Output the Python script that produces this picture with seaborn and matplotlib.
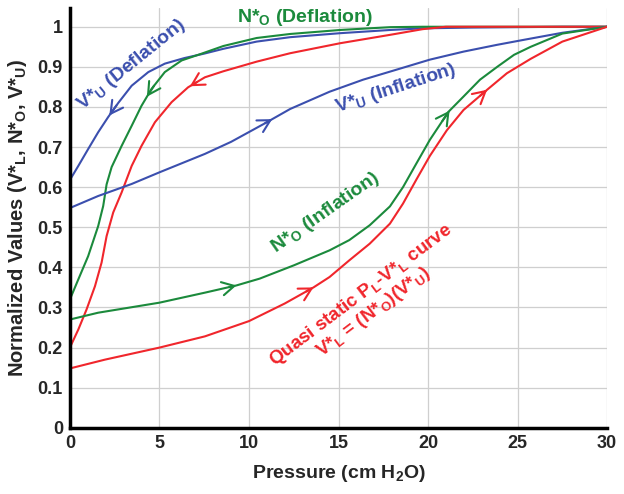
import numpy as np
import matplotlib
matplotlib.use("Agg")
import matplotlib.pyplot as plt
import seaborn as sns

# curves (pressure in cm H2O, normalized values)
vu_def_x = [0, 0.47, 1.02, 1.58, 2.14, 2.7, 3.45, 4.38, 5.3, 6.4, 7.5, 8.57, 10.43, 12.3, 15.1, 17.9, 19.7, 22.5, 25, 27.5, 30]
vu_def_y = [0.618, 0.653, 0.695, 0.737, 0.775, 0.81, 0.853, 0.887, 0.908, 0.922, 0.933, 0.945, 0.963, 0.974, 0.984, 0.992, 0.996, 0.998, 0.999, 1.0, 1.0]

no_def_x = [0, 0.47, 1.02, 1.58, 1.86, 2.05, 2.33, 2.89, 3.45, 4.0, 4.56, 5.3, 6.24, 7.36, 8.57, 10.43, 12.3, 15.1, 17.9, 19.7, 25, 30]
no_def_y = [0.32, 0.37, 0.428, 0.503, 0.553, 0.607, 0.65, 0.703, 0.753, 0.803, 0.845, 0.887, 0.916, 0.933, 0.952, 0.972, 0.982, 0.992, 0.999, 1.0, 1.0, 1.0]

vl_def_x = [0, 0.47, 0.93, 1.4, 1.77, 2.05, 2.42, 2.89, 3.45, 4.0, 4.75, 5.68, 6.6, 7.54, 8.57, 10.43, 12.3, 15.1, 17.9, 19.7, 21, 25, 30]
vl_def_y = [0.2, 0.245, 0.295, 0.353, 0.412, 0.478, 0.537, 0.587, 0.653, 0.703, 0.762, 0.812, 0.849, 0.874, 0.889, 0.913, 0.934, 0.959, 0.98, 0.994, 1.0, 1.0, 1.0]

vu_inf_x = [0, 1.58, 3.45, 5, 7.54, 9.0, 10.8, 12.3, 14.5, 16.37, 18.24, 20.1, 21.98, 23.86, 25.36, 27.5, 30]
vu_inf_y = [0.548, 0.578, 0.608, 0.637, 0.683, 0.713, 0.757, 0.795, 0.838, 0.868, 0.893, 0.918, 0.938, 0.955, 0.9675, 0.985, 1.0]

no_inf_x = [0, 1.58, 5, 7.54, 9.3, 10.6, 12.5, 14.5, 15.6, 16.74, 17.87, 18.6, 19.36, 20.1, 21.14, 21.98, 22.9, 23.86, 24.8, 25.73, 27.5, 30]
no_inf_y = [0.27, 0.287, 0.312, 0.337, 0.355, 0.372, 0.405, 0.4425, 0.468, 0.505, 0.552, 0.6, 0.66, 0.718, 0.788, 0.826, 0.868, 0.9, 0.93, 0.95, 0.983, 1.0]

vl_inf_x = [0, 1.96, 5, 7.54, 10.0, 12.0, 13.6, 14.5, 15.6, 16.74, 17.87, 18.6, 19.36, 20.1, 21.05, 21.98, 23.3, 24.4, 25.73, 27.5, 30]
vl_inf_y = [0.148, 0.17, 0.2, 0.228, 0.266, 0.31, 0.35, 0.376, 0.4175, 0.459, 0.509, 0.559, 0.62, 0.678, 0.742, 0.7925, 0.843, 0.884, 0.92, 0.963, 1.0]

x_ticks = [0, 5, 10, 15, 20, 25, 30]
y_ticks = [0, 0.1, 0.2, 0.3, 0.4, 0.5, 0.6, 0.7, 0.8, 0.9, 1.0]
y_tick_labels = ["0", "0.1", "0.2", "0.3", "0.4", "0.5", "0.6", "0.7", "0.8", "0.9", "1"]

blue = "#3b4fae"
green = "#1b8a3c"
red = "#f0262c"

sns.set_style("whitegrid")
plt.rcParams["font.family"] = ["Liberation Sans", "DejaVu Sans"]
plt.rcParams["font.weight"] = "bold"
plt.rcParams["mathtext.fontset"] = "custom"
plt.rcParams["mathtext.rm"] = "Liberation Sans:bold"
plt.rcParams["mathtext.it"] = "Liberation Sans:bold"
plt.rcParams["mathtext.bf"] = "Liberation Sans:bold"
plt.rcParams["mathtext.default"] = "rm"

fig, ax = plt.subplots(figsize=(6.24, 4.94), dpi=100)
fig.subplots_adjust(left=0.112, right=0.973, bottom=0.134, top=0.984)

# (x, y, colour, direction of travel, where the arrowheads sit)
curves = [
    (vu_def_x, vu_def_y, blue, -1, [2.2]),
    (no_def_x, no_def_y, green, -1, [4.3]),
    (vl_def_x, vl_def_y, red, -1, [6.7]),
    (vu_inf_x, vu_inf_y, blue, 1, [11.3]),
    (no_inf_x, no_inf_y, green, 1, [9.3, 21.2]),
    (vl_inf_x, vl_inf_y, red, 1, [13.6, 23.3]),
]

for xs, ys, col, direction, arrows in curves:
    sns.lineplot(x=xs, y=ys, color=col, lw=1.5, ax=ax, sort=False, estimator=None,
                 solid_joinstyle="round", solid_capstyle="round")
    for xa in arrows:
        ya = np.interp(xa, xs, ys)
        xt = xa - direction * 0.4
        yt = np.interp(xt, xs, ys)
        ax.annotate("", xy=(xa, ya), xytext=(xt, yt),
                    arrowprops=dict(arrowstyle="->,head_length=0.55,head_width=0.3",
                                    color=col, lw=1.5, mutation_scale=16,
                                    shrinkA=0, shrinkB=0))

# curve labels
ax.text(3.46, 0.905, "V*$_{U}$ (Deflation)", color=blue, fontsize=14,
        rotation=39, ha="center", va="center", rotation_mode="anchor")
ax.text(13.1, 1.022, "N*$_{O}$ (Deflation)", color=green, fontsize=14,
        ha="center", va="center")
ax.text(18.2, 0.845, "V*$_{U}$ (Inflation)", color=blue, fontsize=14,
        rotation=18, ha="center", va="center", rotation_mode="anchor")
ax.text(14.25, 0.537, "N*$_{O}$ (Inflation)", color=green, fontsize=14,
        rotation=35, ha="center", va="center", rotation_mode="anchor")
ax.text(16.6, 0.31, "Quasi static P$_{L}$-V*$_{L}$ curve\nV*$_{L}$ = (N*$_{O}$)(V*$_{U}$)",
        color=red, fontsize=13.5, rotation=37, ha="center", va="center",
        rotation_mode="anchor", multialignment="center", linespacing=1.0)

ax.set_xlim(0, 30)
ax.set_ylim(0, 1.047)
ax.set_xticks(x_ticks)
ax.set_xticklabels([str(t) for t in x_ticks], fontsize=13, fontweight="bold")
ax.set_yticks(y_ticks)
ax.set_yticklabels(y_tick_labels, fontsize=13, fontweight="bold")
ax.tick_params(length=0, pad=5)
ax.grid(True, color="#cfcfcf", lw=0.9)

ax.set_xlabel("Pressure (cm H$_{2}$O)", fontsize=14, fontweight="bold", labelpad=8)
ax.set_ylabel("Normalized Values (V*$_{L}$, N*$_{O}$, V*$_{U}$)", fontsize=14.5,
              fontweight="bold", labelpad=6)

sns.despine(ax=ax, top=True, right=True)
for side in ["left", "bottom"]:
    ax.spines[side].set_color("black")
    ax.spines[side].set_linewidth(2.5)

plt.savefig("out.png", dpi=100)
